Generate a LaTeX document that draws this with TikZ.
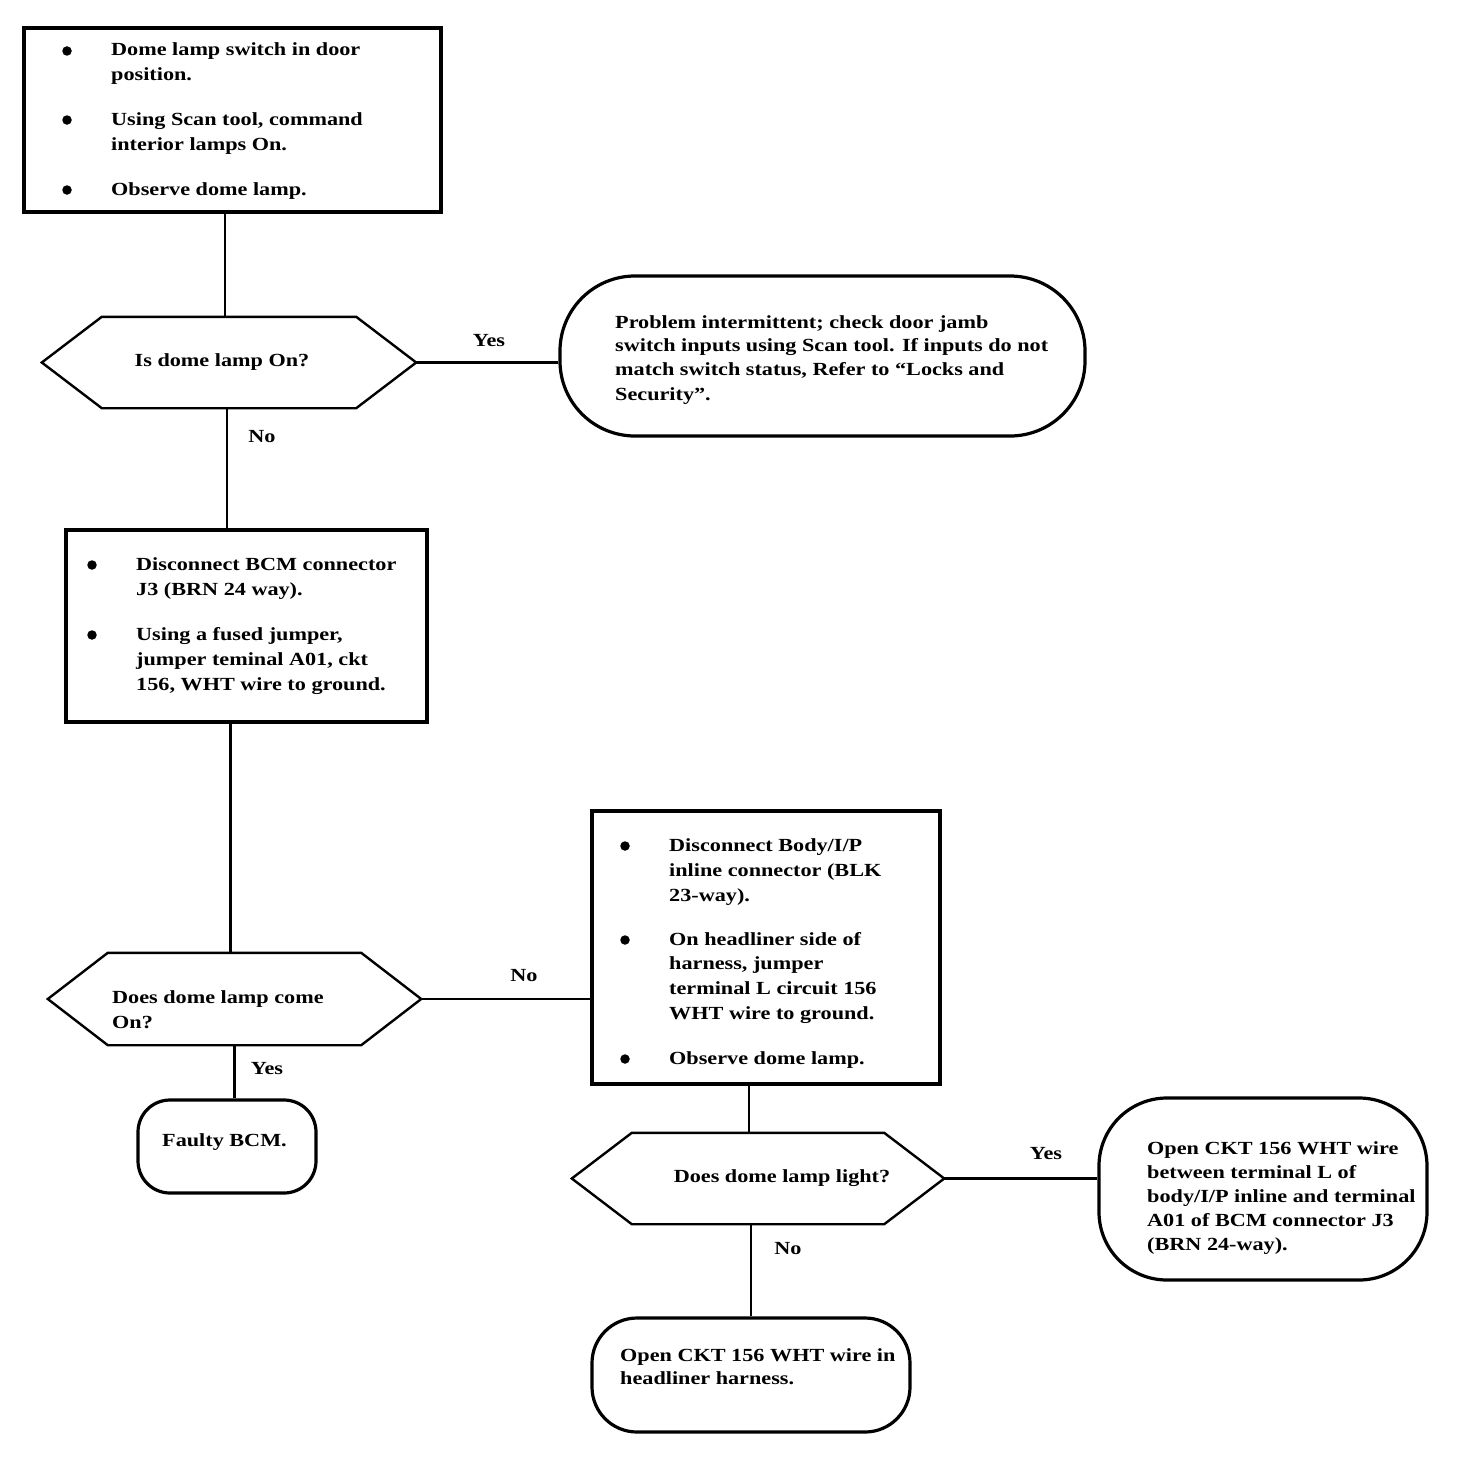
\documentclass[tikz,border=0pt]{standalone}
\usepackage{fontspec}
\setmainfont{Liberation Serif}[FakeStretch=1.2]
\usetikzlibrary{calc}
\newcommand\flowfont{\fontsize{18.5}{24.5}\selectfont\bfseries}
\begin{document}
\begin{tikzpicture}[x=1pt,y=-1pt,
  shp/.style={draw, line width=3.2pt, inner sep=0pt},
  hexbox/.style={inner sep=0pt},
  hexline/.style={line width=2.4pt, line join=miter},
  conn/.style={line width=2.3pt},
  txt/.style={anchor=base west, inner sep=0pt, font=\flowfont},
  ctxt/.style={anchor=base, inner sep=0pt, font=\flowfont},
  blt/.style={circle, fill, inner sep=0pt, minimum size=9.5pt}]
\path[use as bounding box] (0,0) rectangle (1456,1472);

% ---------- shapes ----------
\node[shp, minimum width=417pt, minimum height=184pt] (box1) at (232.5,120) {};
\node[hexbox, minimum width=374pt, minimum height=91pt] (d1) at (229,362.5) {};
\node[shp, rounded corners=75pt, minimum width=525pt, minimum height=160pt] (t1) at (822.5,356) {};
\node[shp, minimum width=361pt, minimum height=192pt] (box2) at (246.5,626) {};
\node[hexbox, minimum width=373pt, minimum height=92pt] (d2) at (234.5,999) {};
\node[shp, rounded corners=32pt, minimum width=178pt, minimum height=93pt] (t2) at (227,1146.5) {};
\node[shp, minimum width=348pt, minimum height=273pt] (box3) at (766,947.5) {};
\node[hexbox, minimum width=372pt, minimum height=91pt] (d3) at (758,1178.5) {};
\node[shp, rounded corners=68pt, minimum width=328pt, minimum height=182pt] (t3) at (1263,1189) {};
\node[shp, rounded corners=45pt, minimum width=318pt, minimum height=114pt] (t4) at (751,1375) {};

\foreach \h in {d1,d2,d3}{
  \draw[hexline] (\h.west) -- ($(\h.north west)+(60,0)$) -- ($(\h.north east)+(-60,0)$)
    -- (\h.east) -- ($(\h.south east)+(-60,0)$) -- ($(\h.south west)+(60,0)$) -- cycle;
}

% ---------- connectors ----------
\draw[conn] ($(box1.south -| d1.north)+(-4,0)$) -- ($(d1.north)+(-4,0)$);
\draw[conn] (d1.east) -- (d1.east -| t1.west);
\draw[conn] ($(d1.south)+(-2,0)$) -- ($(d1.south |- box2.north)+(-2,0)$);
\draw[conn] ($(box2.south -| d2.north)+(-4,0)$) -- ($(d2.north)+(-4,0)$);
\draw[conn] (d2.east) -- (d2.east -| box3.west);
\draw[conn] (d2.south) -- (d2.south |- t2.north);
\draw[conn] ($(box3.south -| t4.north)+(-2,0)$) -- ($(d3.north -| t4.north)+(-2,0)$);
\draw[conn] (d3.east) -- (d3.east -| t3.west);
\draw[conn] (d3.south -| t4.north) -- (t4.north);

% ---------- labels ----------
\node[ctxt] (lyes1) at (489,346) {Yes};
\node[ctxt] (lno1) at (262,442) {No};
\node[ctxt] (lno2) at (524,981) {No};
\node[ctxt] (lyes2) at (267,1074) {Yes};
\node[ctxt] (lyes3) at (1046,1159) {Yes};
\node[ctxt] (lno3) at (788,1254) {No};

% ---------- box 1 ----------
\node[blt] (b1u1) at (67,51) {};
\node[blt] (b1u2) at (67,120) {};
\node[blt] (b1u3) at (67,190) {};
\node[txt] (b1l1) at (111,56) {Dome lamp switch in door};
\node[txt] (b1l2) at (111,81) {position.};
\node[txt] (b1l3) at (111,125.5) {Using Scan tool, command};
\node[txt] (b1l4) at (111,150) {interior lamps On.};
\node[txt] (b1l5) at (111,195) {Observe dome lamp.};

% ---------- decision 1 ----------
\node[ctxt] (d1t) at (222,366) {Is dome lamp On?};

% ---------- terminal 1 ----------
\node[txt] (t1l1) at (615,328) {Problem intermittent; check door jamb};
\node[txt] (t1l2) at (615,351) {switch inputs using Scan tool. If inputs do not};
\node[txt] (t1l3) at (615,375) {match switch status, Refer to “Locks and};
\node[txt] (t1l4) at (615,400) {Security”.};

% ---------- box 2 ----------
\node[blt] (b2u1) at (92,565) {};
\node[blt] (b2u2) at (92,635) {};
\node[txt] (b2l1) at (136,570) {Disconnect BCM connector};
\node[txt] (b2l2) at (136,595) {J3 (BRN 24 way).};
\node[txt] (b2l3) at (136,640) {Using a fused jumper,};
\node[txt] (b2l4) at (136,665) {jumper teminal A01, ckt};
\node[txt] (b2l5) at (136,690) {156, WHT wire to ground.};

% ---------- decision 2 ----------
\node[txt] (d2t1) at (112,1003) {Does dome lamp come};
\node[txt] (d2t2) at (112,1028) {On?};

% ---------- terminal 2 ----------
\node[txt] (t2l1) at (162,1146) {Faulty BCM.};

% ---------- box 3 ----------
\node[blt] (b3u1) at (625,846) {};
\node[blt] (b3u2) at (625,940) {};
\node[blt] (b3u3) at (625,1059) {};
\node[txt] (b3l1) at (669,851) {Disconnect Body/I/P};
\node[txt] (b3l2) at (669,876) {inline connector (BLK};
\node[txt] (b3l3) at (669,901) {23-way).};
\node[txt] (b3l4) at (669,945) {On headliner side of};
\node[txt] (b3l5) at (669,969) {harness, jumper};
\node[txt] (b3l6) at (669,994) {terminal L circuit 156};
\node[txt] (b3l7) at (669,1019) {WHT wire to ground.};
\node[txt] (b3l8) at (669,1064) {Observe dome lamp.};

% ---------- decision 3 ----------
\node[ctxt] (d3t) at (782,1182) {Does dome lamp light?};

% ---------- terminal 3 ----------
\node[txt] (t3l1) at (1147,1154) {Open CKT 156 WHT wire};
\node[txt] (t3l2) at (1147,1178) {between terminal L of};
\node[txt] (t3l3) at (1147,1202) {body/I/P inline and terminal};
\node[txt] (t3l4) at (1147,1226) {A01 of BCM connector J3};
\node[txt] (t3l5) at (1147,1250) {(BRN 24-way).};

% ---------- terminal 4 ----------
\node[txt] (t4l1) at (620,1361) {Open CKT 156 WHT wire in};
\node[txt] (t4l2) at (620,1384) {headliner harness.};
\end{tikzpicture}
\end{document}
